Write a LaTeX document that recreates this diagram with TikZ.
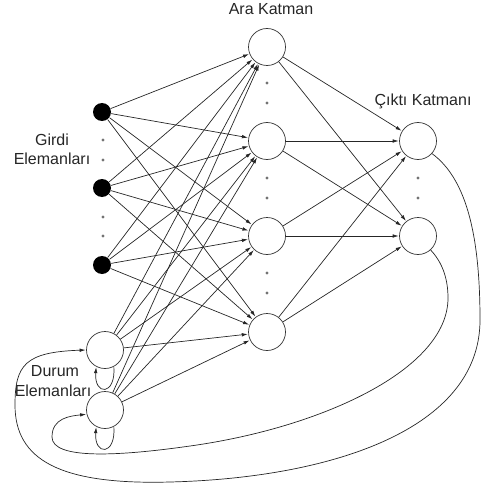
\documentclass[tikz,border=0pt]{standalone}
\usepackage{fontspec}
\setmainfont{Liberation Sans}
\usetikzlibrary{arrows.meta}
\begin{document}
\begin{tikzpicture}[x=1pt,y=-1pt,
  line width=0.7pt,
  neuron/.style={circle,draw=black!80,fill=white,line width=0.7pt,minimum size=37pt,inner sep=0pt},
  inputunit/.style={circle,fill=black,minimum size=18pt,inner sep=0pt},
  link/.style={draw=black!85,-{Latex[length=6pt,width=3.6pt]},shorten >=0.5pt},
  ellip/.style={circle,fill=black!55,minimum size=3.2pt,inner sep=0pt},
  lbl/.style={font=\fontsize{16}{18}\selectfont,text=black!85,inner sep=0pt}]
\useasboundingbox (0,0) rectangle (481,492);

% input units
\node[inputunit] (i1) at (102,112) {};
\node[inputunit] (i2) at (102,188) {};
\node[inputunit] (i3) at (102,265) {};
% context units
\node[neuron] (c1) at (105,350) {};
\node[neuron] (c2) at (105,410) {};
% hidden units
\node[neuron] (h1) at (267,47) {};
\node[neuron] (h2) at (267,141) {};
\node[neuron] (h3) at (267,236) {};
\node[neuron] (h4) at (267,332) {};
% output units
\node[neuron] (o1) at (418,141) {};
\node[neuron] (o2) at (418,236) {};

% ellipsis dots
\foreach \n/\x/\y in {a/103/140,b/103/160,c/103/217,d/103/236,
                      e/267/83,f/267/103,g/267/178,h/267/198,k/267/273,l/267/293,
                      m/418/178,n/418/198}
  \node[ellip] (dot\n) at (\x,\y) {};

% labels
\node[lbl] (tAra) at (271,9) {Ara Katman};
\node[lbl] (tCikti) at (423,101) {Çıktı Katmanı};
\node[lbl] (tGirdi) at (52,140) {Girdi};
\node[lbl] (tGirdiE) at (52,159) {Elemanları};
\node[lbl] (tDurum) at (55,371) {Durum};
\node[lbl] (tDurumE) at (53,391) {Elemanları};

% input and context units to hidden layer
\foreach \s in {i1,i2,i3,c1,c2}
  \foreach \t in {h1,h2,h3,h4}
    \path[link] (\s) -- (\t);

% hidden layer to output layer
\foreach \s in {h1,h2,h3,h4}
  \foreach \t in {o1,o2}
    \path[link] (\s) -- (\t);

% context self loops
\path[link] (c1.-62) .. controls (116,396) and (94,396) .. (c1.-118);
\path[link] (c2.-62) .. controls (116,456) and (94,456) .. (c2.-118);

% output feedback to context units
\path[link] (o1.-42) .. controls (468,180) and (480,240) .. (480,320)
  .. controls (480,430) and (330,478) .. (170,482)
  .. controls (60,485) and (15,460) .. (15,405)
  .. controls (15,365) and (25,352) .. (c1.west);
\path[link] (o2.-48) .. controls (442,262) and (448,278) .. (448,298)
  .. controls (448,370) and (320,428) .. (190,446)
  .. controls (120,456) and (52,460) .. (52,437)
  .. controls (52,418) and (70,416) .. (c2.193);
\end{tikzpicture}
\end{document}
